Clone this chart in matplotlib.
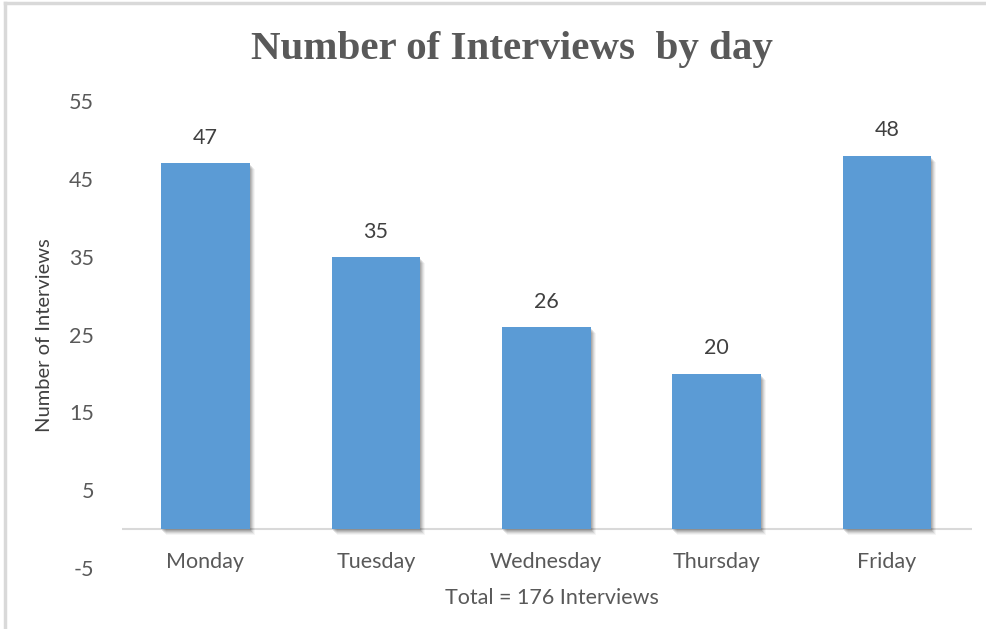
import matplotlib.pyplot as plt
import matplotlib.transforms as mtransforms
from matplotlib.lines import Line2D

days = ["Monday", "Tuesday", "Wednesday", "Thursday", "Friday"]
interviews = [47, 35, 26, 20, 48]
yticks = [-5, 5, 15, 25, 35, 45, 55]

bar_color = "#5B9BD5"
text_color = "#595959"
plt.rcParams['font.family'] = ['Lato', 'DejaVu Sans']
plt.rcParams['axes.unicode_minus'] = False

fig = plt.figure(figsize=(9.87, 6.29), dpi=100)
ax = fig.add_axes([0.1236, 0.097, 0.8614, 0.742])

x = list(range(len(days)))
width = 0.52

# soft drop shadow: a few offset, translucent copies behind the bars
for dx, dy, a in [(5, -6, 0.04), (4, -5, 0.06), (3, -4, 0.08), (2, -3, 0.1), (1, -2, 0.1)]:
    tr = mtransforms.offset_copy(ax.transData, fig=fig, x=dx, y=dy, units='dots')
    ax.bar(x, interviews, width=width, color="black", alpha=a, transform=tr, zorder=1)

bars = ax.bar(x, interviews, width=width, color=bar_color, zorder=2)
for b, v in zip(bars, interviews):
    ax.annotate(str(v), (b.get_x() + b.get_width() / 2, v), xytext=(0, 11),
                textcoords='offset points', ha='center', va='bottom',
                fontsize=15.5, color="#404040")

ax.axhline(0, color="#d9d9d9", lw=1.5, zorder=0)
ax.set_xlim(-0.49, 4.5)
ax.set_ylim(-5, 55)
ax.set_yticks(yticks)
ax.set_xticks(x)
ax.set_xticklabels(days)
for s in ax.spines.values():
    s.set_visible(False)
ax.tick_params(length=0, labelsize=15.5, colors=text_color)
ax.tick_params(axis='x', pad=-11.5)
ax.tick_params(axis='y', pad=20)

ax.set_ylabel("Number of Interviews", fontsize=14.5, color="#404040", labelpad=12)
fig.text(0.559, 0.049, "Total = 176 Interviews", ha='center', va='center',
         fontsize=15.5, color=text_color)
fig.text(0.519, 0.922, "Number of Interviews  by day", ha='center', va='center',
         fontsize=29.5, fontweight='bold', color=text_color,
         family=['Liberation Serif', 'DejaVu Serif'])

# chart frame (top and left edges)
fig.add_artist(Line2D([0.0055, 0.0055], [0, 0.995], color="#d9d9d9", lw=2.5,
                      transform=fig.transFigure))
fig.add_artist(Line2D([0.0055, 1], [0.995, 0.995], color="#d9d9d9", lw=2.5,
                      transform=fig.transFigure))

fig.savefig("out.png")
